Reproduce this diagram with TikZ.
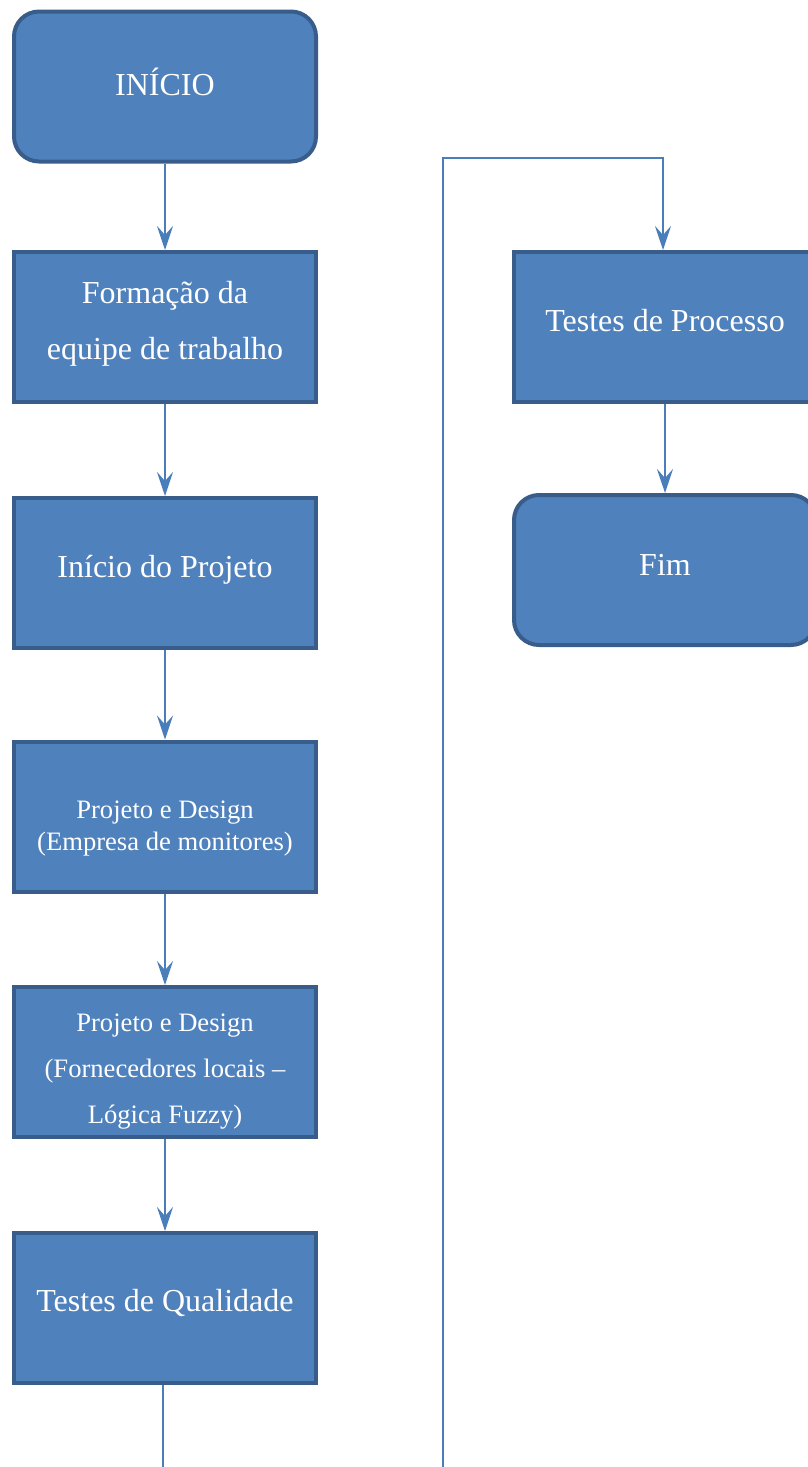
\documentclass[tikz,border=0pt]{standalone}
\usepackage{fontspec}
\setmainfont{Liberation Serif}
\usetikzlibrary{arrows.meta,calc}
\definecolor{boxfill}{HTML}{4F81BD}
\definecolor{boxline}{HTML}{385D8A}
\definecolor{conn}{HTML}{4A7EBB}
\tikzset{
  stepbox/.style={draw=boxline, fill=boxfill, line width=4pt, minimum width=302pt, minimum height=150pt,
    inner sep=0pt, outer sep=2pt},
  roundbox/.style={stepbox, rounded corners=25pt},
  lbl/.style={text=white, align=center, inner sep=0pt},
  big/.style={lbl, font=\fontsize{32}{56}\selectfont},
  small/.style={lbl, font=\fontsize{26.6}{32}\selectfont},
  smallwide/.style={lbl, font=\fontsize{26.6}{46}\selectfont},
  conn/.style={draw=conn, line width=2.2pt, -{Stealth[length=24pt, width=16pt, inset=9pt]}},
  connplain/.style={draw=conn, line width=2.2pt}
}
\begin{document}
\begin{tikzpicture}[x=1pt, y=-1pt]
\useasboundingbox (0,0) rectangle (808,1467);
\node[roundbox] (inicio) at (165,86.5) {};
\node[stepbox] (form) at (165,327) {};
\node[stepbox] (proj) at (165,573) {};
\node[stepbox] (emp) at (165,816.5) {};
\node[stepbox] (forn) at (165,1062) {};
\node[stepbox] (qual) at (165,1308) {};
\node[stepbox] (proc) at (665,327) {};
\node[roundbox] (fim) at (665,570) {};
\node[big] (inicio-t) at ($(inicio)+(0,-5)$) {INÍCIO};
\node[big] (form-t) at ($(form)+(0,-3)$) {Formação da\\equipe de trabalho};
\node[big] (proj-t) at ($(proj)+(0,-3)$) {Início do Projeto};
\node[small] (emp-t) at ($(emp)+(0,12)$) {Projeto e Design\\(Empresa de monitores)};
\node[smallwide] (forn-t) at ($(forn)+(0,10)$) {Projeto e Design\\(Fornecedores locais –\\Lógica Fuzzy)};
\node[big] (qual-t) at ($(qual)+(0,-5)$) {Testes de Qualidade};
\node[big] (proc-t) at ($(proc)+(0,-6)$) {Testes de Processo};
\node[big] (fim-t) at ($(fim)+(0,-5)$) {Fim};
\coordinate (c1) at (163,1475);
\coordinate (c2) at (443,1475);
\coordinate (c3) at (443,158);
\coordinate (c4) at (663,158);
\draw[conn] (inicio.south) -- (form.north);
\draw[conn] (form.south) -- (proj.north);
\draw[conn] (proj.south) -- (emp.north);
\draw[conn] (emp.south) -- (forn.north);
\draw[conn] (forn.south) -- (qual.north);
\draw[connplain] (qual.south -| c1) -- (c1);
\draw[conn] (c2) -- (c3) -- (c4) -- (c4 |- proc.north);
\draw[conn] (proc.south) -- (fim.north);
\end{tikzpicture}
\end{document}
